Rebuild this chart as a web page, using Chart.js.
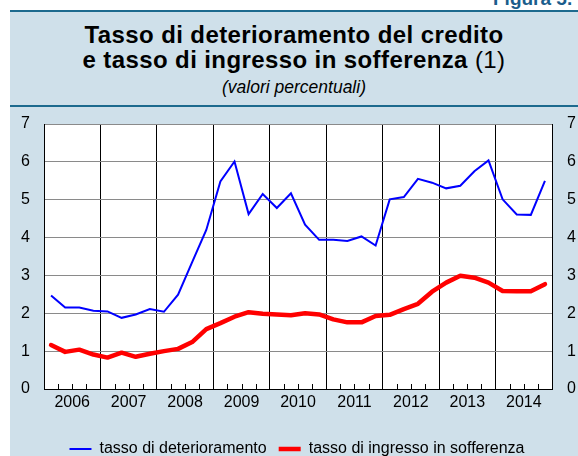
<!DOCTYPE html>
<html><head><meta charset="utf-8">
<script src="https://cdn.jsdelivr.net/npm/chart.js@4"></script>
<style>
html,body{margin:0;padding:0;background:#fff;overflow:hidden;}
#wrap{position:relative;width:578px;height:456px;overflow:hidden;font-family:"Liberation Sans",Arial,sans-serif;}
#panel{position:absolute;left:10px;top:10px;width:568px;height:446px;background:#cfe0ea;}
.rule{position:absolute;left:10px;width:568px;height:2px;background:#1d6a8e;}
.t{position:absolute;left:10px;width:568px;text-align:center;color:#000;white-space:nowrap;}
#fig{position:absolute;left:493px;top:-11px;font-size:19px;line-height:19px;font-weight:bold;color:#1a5d8c;white-space:nowrap;}
#c{position:absolute;left:0;top:0;}
</style></head>
<body>
<div id="wrap">
<div id="panel"></div>
<div class="rule" style="top:10px"></div>
<div class="rule" style="top:105px"></div>
<div id="fig">Figura 5.</div>
<div class="t" style="top:23px;font-size:24px;line-height:24px;font-weight:bold;letter-spacing:0.4px">Tasso di deterioramento del credito</div>
<div class="t" style="top:48px;font-size:24px;line-height:24px;letter-spacing:0.4px"><b>e tasso di ingresso in sofferenza</b> (1)</div>
<div class="t" style="top:79px;font-size:17.5px;line-height:17.5px;font-style:italic">(valori percentuali)</div>
<canvas id="c" width="578" height="467"></canvas>
</div>
<script>
const years = ['2006','2007','2008','2009','2010','2011','2012','2013','2014'];
const seriesNames = ['tasso di deterioramento','tasso di ingresso in sofferenza'];
const deterioramento = [2.47,2.15,2.15,2.07, 2.05,1.88,1.97,2.11, 2.04,2.49,3.35,4.2, 5.48,6.01,4.62,5.15, 4.78,5.17,4.34,3.94, 3.94,3.91,4.03,3.79, 5.01,5.07,5.55,5.45, 5.30,5.37,5.75,6.04, 5.01,4.61,4.60,5.50];
const sofferenza = [1.16,0.98,1.04,0.91, 0.83,0.96,0.85,0.93, 1.00,1.06,1.24,1.58, 1.74,1.91,2.03,1.99, 1.97,1.95,2.00,1.97, 1.84,1.76,1.76,1.93, 1.96,2.11,2.25,2.57, 2.81,2.99,2.94,2.81, 2.59,2.58,2.58,2.77];
const yMin = 0, yMax = 7;

const F = '"Liberation Sans", Arial, sans-serif';
const nQ = deterioramento.length;

const bgPlugin = {
  id:'bg',
  beforeDraw(chart){
    const a = chart.chartArea, c = chart.ctx;
    c.save(); c.fillStyle='#fff'; c.fillRect(a.left,a.top,a.right-a.left,a.bottom-a.top); c.restore();
  }
};
const quarterTicks = {
  id:'qt',
  afterDraw(chart){
    const s = chart.scales.x, c = chart.ctx, b = chart.chartArea.bottom;
    c.save(); c.strokeStyle='#000'; c.lineWidth=1;
    for(let v=1; v<nQ; v++){
      if(v%4===0) continue;
      const x = Math.round(s.getPixelForValue(v))+0.5;
      c.beginPath(); c.moveTo(x,b); c.lineTo(x,b-5); c.stroke();
    }
    c.restore();
  }
};

new Chart(document.getElementById('c'), {
  type:'line',
  data:{datasets:[
    {label:seriesNames[0], data:deterioramento.map((v,i)=>({x:i+0.5,y:v})), borderColor:'#0000ff', backgroundColor:'#0000ff', borderWidth:2, pointRadius:0, tension:0},
    {label:seriesNames[1], data:sofferenza.map((v,i)=>({x:i+0.5,y:v})), borderColor:'#ff0000', backgroundColor:'#ff0000', borderWidth:4.5, pointRadius:0, tension:0, borderJoinStyle:'round', borderCapStyle:'round'}
  ]},
  options:{
    responsive:false, animation:false, devicePixelRatio:1,
    layout:{padding:{left:16,top:124,right:0,bottom:0}},
    plugins:{
      legend:{position:'bottom', labels:{usePointStyle:true, pointStyle:'line', pointStyleWidth:22, font:{size:16,family:F}, color:'#000', padding:12}},
      tooltip:{enabled:false}
    },
    scales:{
      x:{type:'linear', min:0, max:nQ,
        afterBuildTicks:s=>{ s.ticks = Array.from({length:nQ+1},(_,v)=>({value:v})); },
        ticks:{autoSkip:false, maxRotation:0, padding:4, font:{size:16,family:F}, color:'#000',
          callback:(v)=> (v%4===2 ? years[(v-2)/4] : '')},
        grid:{color:c=> (c.tick && c.tick.value%4===0) ? '#000' : 'rgba(0,0,0,0)', lineWidth:1, drawTicks:false},
        border:{color:'#000', width:1},
        afterFit:s=>{ s.height = 40; }
      },
      y:{position:'left', min:yMin, max:yMax,
        ticks:{stepSize:1, padding:14, font:{size:16,family:F}, color:'#000'},
        grid:{color:'#8a8a8a', drawTicks:false},
        border:{color:'#000', width:1},
        afterFit:s=>{ s.width = 28; }
      },
      y2:{position:'right', min:yMin, max:yMax,
        ticks:{stepSize:1, padding:15, font:{size:16,family:F}, color:'#000'},
        grid:{display:false, drawTicks:false},
        border:{color:'#000', width:1},
        afterFit:s=>{ s.width = 26; }
      }
    }
  },
  plugins:[bgPlugin, quarterTicks]
});
</script>
</body></html>
